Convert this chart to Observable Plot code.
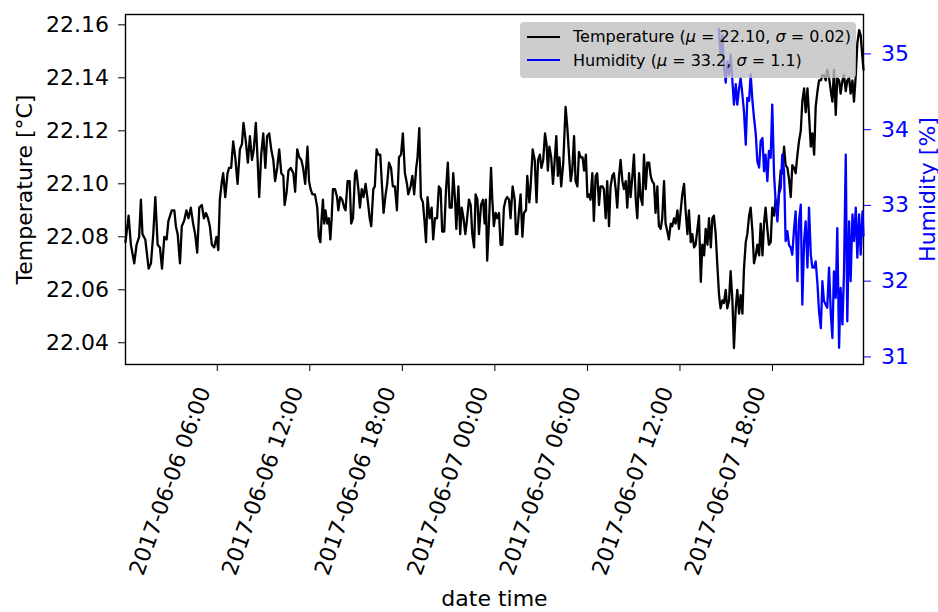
<!DOCTYPE html>
<html><head><meta charset="utf-8">
<script src="https://cdn.jsdelivr.net/npm/d3@7"></script>
<script src="https://cdn.jsdelivr.net/npm/@observablehq/plot@0.6"></script>
<style>
body{margin:0;background:#fff;}
#wrap{position:relative;width:938px;height:612px;font-family:"DejaVu Sans";background:#fff;}
#wrap svg{position:absolute;left:0;top:0;}
#legend{position:absolute;left:520px;top:22px;width:336px;height:56px;background:rgba(192,192,192,0.8);border-radius:4px;font-size:16px;color:#000;}
.row{position:absolute;left:7px;height:20px;display:flex;align-items:center;white-space:nowrap;}
.sw{width:33px;height:2px;margin-right:13px;}
</style></head>
<body><div id="wrap"></div>
<script>
// minutes after 2017-06-06 00:00 UTC, value
const tempSeries = [
[3,22.078],[15,22.088],[24,22.077],[37,22.070],[46,22.077],[56,22.080],[63,22.094],[69,22.081],[80,22.079],[93,22.068],
[102,22.070],[111,22.081],[119,22.095],[128,22.077],[137,22.076],[145,22.068],[154,22.080],[163,22.079],[170,22.086],[183,22.090],
[193,22.090],[199,22.084],[206,22.081],[215,22.070],[222,22.084],[231,22.086],[240,22.090],[248,22.087],[257,22.091],[266,22.085],
[274,22.081],[282,22.074],[290,22.091],[300,22.092],[308,22.087],[316,22.089],[324,22.087],[331,22.084],[339,22.077],[348,22.076],
[357,22.080],[364,22.075],[370,22.094],[378,22.101],[383,22.104],[391,22.095],[400,22.104],[406,22.106],[414,22.106],[422,22.116],
[430,22.110],[439,22.100],[448,22.113],[456,22.115],[462,22.123],[471,22.116],[479,22.108],[487,22.118],[495,22.109],[502,22.113],
[510,22.123],[517,22.109],[523,22.095],[531,22.111],[539,22.119],[547,22.106],[554,22.118],[562,22.119],[570,22.113],[578,22.109],
[585,22.101],[593,22.106],[601,22.113],[609,22.104],[617,22.103],[622,22.092],[630,22.097],[637,22.105],[646,22.106],[656,22.104],
[663,22.097],[671,22.113],[679,22.110],[687,22.109],[694,22.106],[702,22.100],[711,22.114],[717,22.101],[723,22.098],[730,22.096],
[740,22.096],[749,22.091],[755,22.080],[761,22.078],[766,22.087],[771,22.094],[776,22.085],[781,22.090],[788,22.085],[794,22.087],
[800,22.079],[805,22.087],[810,22.098],[818,22.098],[826,22.095],[831,22.090],[838,22.095],[846,22.094],[854,22.091],[859,22.090],
[867,22.101],[875,22.101],[881,22.085],[888,22.087],[896,22.104],[901,22.105],[909,22.098],[915,22.091],[922,22.098],[929,22.095],
[937,22.100],[945,22.094],[953,22.087],[959,22.084],[967,22.098],[973,22.099],[980,22.113],[986,22.111],[994,22.111],[1001,22.099],
[1007,22.089],[1015,22.096],[1021,22.100],[1028,22.108],[1036,22.106],[1043,22.099],[1051,22.099],[1059,22.090],[1067,22.110],[1075,22.111],
[1082,22.119],[1090,22.104],[1098,22.100],[1103,22.096],[1112,22.099],[1119,22.103],[1126,22.096],[1134,22.106],[1139,22.110],[1146,22.121],
[1152,22.095],[1160,22.093],[1167,22.085],[1172,22.078],[1178,22.095],[1186,22.087],[1194,22.091],[1200,22.079],[1207,22.087],[1215,22.087],
[1222,22.099],[1229,22.098],[1235,22.082],[1243,22.082],[1250,22.098],[1257,22.108],[1264,22.091],[1272,22.091],[1278,22.104],[1285,22.094],
[1290,22.083],[1298,22.099],[1305,22.081],[1311,22.091],[1318,22.087],[1325,22.081],[1331,22.086],[1339,22.094],[1346,22.092],[1352,22.081],
[1359,22.076],[1365,22.096],[1372,22.094],[1378,22.081],[1386,22.092],[1394,22.094],[1400,22.085],[1405,22.094],[1410,22.071],[1417,22.085],
[1425,22.106],[1430,22.094],[1436,22.084],[1443,22.089],[1449,22.087],[1456,22.089],[1462,22.077],[1469,22.077],[1475,22.091],[1482,22.094],
[1488,22.095],[1495,22.094],[1501,22.087],[1509,22.099],[1517,22.094],[1522,22.081],[1527,22.081],[1534,22.090],[1540,22.096],[1547,22.080],
[1553,22.089],[1561,22.090],[1566,22.103],[1574,22.093],[1579,22.099],[1587,22.113],[1595,22.109],[1602,22.093],[1608,22.109],[1615,22.111],
[1621,22.106],[1628,22.109],[1635,22.119],[1641,22.115],[1646,22.105],[1652,22.114],[1659,22.110],[1666,22.100],[1672,22.108],[1679,22.118],
[1685,22.103],[1691,22.110],[1698,22.099],[1706,22.108],[1715,22.129],[1722,22.121],[1729,22.110],[1735,22.101],[1741,22.105],[1748,22.118],
[1754,22.101],[1761,22.099],[1767,22.112],[1774,22.110],[1781,22.110],[1787,22.105],[1794,22.111],[1800,22.095],[1806,22.096],[1812,22.094],
[1819,22.104],[1825,22.086],[1832,22.103],[1838,22.104],[1845,22.092],[1851,22.099],[1858,22.099],[1864,22.098],[1871,22.087],[1877,22.101],
[1884,22.084],[1890,22.099],[1897,22.103],[1903,22.104],[1910,22.098],[1916,22.091],[1923,22.103],[1929,22.109],[1936,22.101],[1942,22.098],
[1949,22.101],[1955,22.091],[1962,22.104],[1968,22.095],[1975,22.103],[1981,22.111],[1988,22.094],[1994,22.087],[2001,22.104],[2007,22.095],
[2014,22.092],[2020,22.111],[2027,22.098],[2033,22.108],[2040,22.108],[2046,22.103],[2052,22.101],[2059,22.100],[2065,22.089],[2072,22.099],
[2078,22.084],[2085,22.083],[2091,22.087],[2098,22.101],[2104,22.085],[2111,22.082],[2117,22.079],[2124,22.085],[2130,22.084],[2137,22.087],
[2143,22.085],[2150,22.090],[2156,22.083],[2163,22.090],[2169,22.096],[2176,22.100],[2182,22.090],[2189,22.081],[2195,22.090],[2202,22.078],
[2208,22.081],[2215,22.076],[2221,22.077],[2228,22.083],[2234,22.088],[2241,22.063],[2247,22.077],[2254,22.073],[2260,22.083],[2267,22.077],
[2273,22.087],[2280,22.076],[2286,22.087],[2292,22.088],[2299,22.081],[2305,22.070],[2312,22.058],[2318,22.053],[2325,22.056],[2331,22.055],
[2338,22.060],[2344,22.053],[2351,22.056],[2357,22.067],[2364,22.056],[2370,22.038],[2377,22.053],[2383,22.060],[2390,22.051],[2396,22.058],
[2403,22.051],[2409,22.068],[2416,22.078],[2422,22.081],[2429,22.088],[2435,22.091],[2442,22.082],[2448,22.070],[2455,22.073],[2461,22.077],
[2468,22.073],[2474,22.085],[2481,22.073],[2487,22.085],[2493,22.091],[2500,22.083],[2506,22.077],[2513,22.078],[2519,22.091],[2526,22.088],
[2532,22.094],[2539,22.088],[2545,22.097],[2552,22.105],[2558,22.104],[2565,22.114],[2571,22.107],[2578,22.106],[2584,22.102],[2591,22.095],
[2597,22.107],[2604,22.106],[2610,22.104],[2617,22.111],[2623,22.116],[2630,22.120],[2636,22.131],[2643,22.136],[2649,22.127],[2656,22.136],
[2662,22.126],[2669,22.114],[2675,22.119],[2682,22.111],[2688,22.129],[2695,22.135],[2701,22.139],[2708,22.139],[2714,22.141],[2720,22.141],
[2727,22.139],[2733,22.143],[2740,22.140],[2747,22.135],[2753,22.131],[2759,22.143],[2766,22.126],[2772,22.140],[2779,22.139],[2785,22.134],
[2792,22.139],[2798,22.141],[2805,22.135],[2811,22.139],[2818,22.140],[2824,22.134],[2831,22.139],[2837,22.131],[2844,22.141],[2850,22.153],
[2857,22.158],[2863,22.156],[2868,22.150],[2874,22.143]
];
const humSeries = [
[2311,35.33],[2318,34.99],[2325,35.25],[2331,34.86],[2338,34.62],[2344,34.90],[2351,34.73],[2357,34.99],[2364,34.64],[2370,34.33],
[2377,34.60],[2383,34.33],[2390,34.55],[2396,34.68],[2403,34.46],[2409,34.24],[2416,33.80],[2422,34.42],[2429,34.38],[2435,34.73],
[2442,34.38],[2448,34.16],[2455,33.94],[2461,33.58],[2468,33.50],[2474,33.85],[2481,33.89],[2487,33.45],[2493,33.67],[2500,33.32],
[2506,33.72],[2513,33.63],[2519,34.33],[2526,33.41],[2532,33.06],[2539,32.79],[2545,33.14],[2552,33.23],[2558,33.67],[2565,33.45],
[2571,32.53],[2578,32.66],[2584,32.48],[2591,32.44],[2597,32.35],[2604,32.70],[2610,32.92],[2617,32.00],[2623,32.79],[2630,33.01],
[2636,31.69],[2643,32.53],[2649,32.79],[2656,32.18],[2662,32.97],[2669,32.35],[2675,32.18],[2682,32.18],[2688,32.26],[2695,31.96],
[2701,31.60],[2708,31.38],[2714,32.00],[2720,31.74],[2727,31.69],[2733,31.65],[2740,32.18],[2747,31.56],[2753,31.25],[2759,32.13],
[2766,31.78],[2772,32.70],[2779,31.12],[2785,31.91],[2792,31.43],[2798,32.09],[2805,33.67],[2811,31.47],[2818,32.79],[2824,32.00],
[2831,32.88],[2837,32.53],[2844,32.97],[2850,32.31],[2857,32.88],[2863,32.35],[2870,32.92],[2874,32.60]
];
const xTickLabels = ["2017-06-06 06:00","2017-06-06 12:00","2017-06-06 18:00","2017-06-07 00:00","2017-06-07 06:00","2017-06-07 12:00","2017-06-07 18:00"];
const tempTicks = [22.04,22.06,22.08,22.10,22.12,22.14,22.16];
const humTicks = [31,32,33,34,35];
const tempLabel = "Temperature [°C]";
const humLabel = "Humidity [%]";
const xLabel = "date time";
const legendItems = [
  {name:"Temperature", mu:"22.10", sigma:"0.02", color:"black"},
  {name:"Humidity", mu:"33.2", sigma:"1.1", color:"blue"}
];

const start = Date.UTC(2017,5,6,0,0);
const toDate = m => new Date(start + m*60000);
const tempData = tempSeries.map(([m,v]) => ({date: toDate(m), value: v}));
const humData = humSeries.map(([m,v]) => ({date: toDate(m), value: v}));
const xTicks = xTickLabels.map(s => new Date(s.replace(" ","T") + ":00Z"));
const xDomain = [toDate(tempSeries[0][0]), toDate(tempSeries[tempSeries.length-1][0])];
const fmtX = d3.utcFormat("%Y-%m-%d %H:%M");

const FS = 22;
const common = {
  width: 938, height: 612,
  marginLeft: 125, marginRight: 75, marginTop: 14, marginBottom: 248,
  style: {fontFamily: "DejaVu Sans", fontSize: FS + "px", background: "transparent", overflow: "visible", color: "black"}
};

const p1 = Plot.plot({
  ...common,
  x: {type: "utc", domain: xDomain},
  y: {domain: [22.0318, 22.1639]},
  marks: [
    Plot.lineY(tempData, {x: "date", y: "value", stroke: "black", strokeWidth: 2.3}),
    Plot.axisY({anchor: "left", ticks: tempTicks, tickFormat: d3.format(".2f"), tickSize: 7, tickPadding: 9.5, label: null}),
    Plot.axisX({anchor: "bottom", ticks: xTicks, tickFormat: () => "", tickSize: 7, label: null}),
    Plot.text(xTicks, {x: d => d, text: d => fmtX(d), frameAnchor: "bottom", rotate: -70, textAnchor: "end", lineAnchor: "middle", dx: -13, dy: 23.5, fontSize: FS}),
    Plot.text([tempLabel], {text: d => d, frameAnchor: "left", textAnchor: "middle", lineAnchor: "middle", rotate: -90, dx: -100.5, fontSize: FS}),
    Plot.text([xLabel], {text: d => d, frameAnchor: "bottom", lineAnchor: "middle", dy: 234, fontSize: FS}),
    Plot.frame({stroke: "black", strokeWidth: 1.4})
  ]
});

const p2 = Plot.plot({
  ...common,
  x: {type: "utc", domain: xDomain, axis: null},
  y: {domain: [30.90, 35.52]},
  marks: [
    Plot.lineY(humData, {x: "date", y: "value", stroke: "blue", strokeWidth: 2.3}),
    Plot.axisY({anchor: "right", ticks: humTicks, tickFormat: d3.format("d"), tickSize: 7, tickPadding: 10.5, color: "blue", label: null}),
    Plot.text([humLabel], {text: d => d, frameAnchor: "right", textAnchor: "middle", lineAnchor: "middle", rotate: -90, dx: 64, fill: "blue", fontSize: FS})
  ]
});

const wrap = document.getElementById("wrap");
wrap.appendChild(p1);
wrap.appendChild(p2);

const lg = document.createElement("div");
lg.id = "legend";
legendItems.forEach((it, i) => {
  const row = document.createElement("div");
  row.className = "row";
  row.style.top = (i === 0 ? 4.7 : 28) + "px";
  row.innerHTML = `<span class="sw" style="background:${it.color}"></span><span>${it.name} (<i>μ</i> = ${it.mu}, <i>σ</i> = ${it.sigma})</span>`;
  lg.appendChild(row);
});
wrap.appendChild(lg);
</script>
</body></html>
